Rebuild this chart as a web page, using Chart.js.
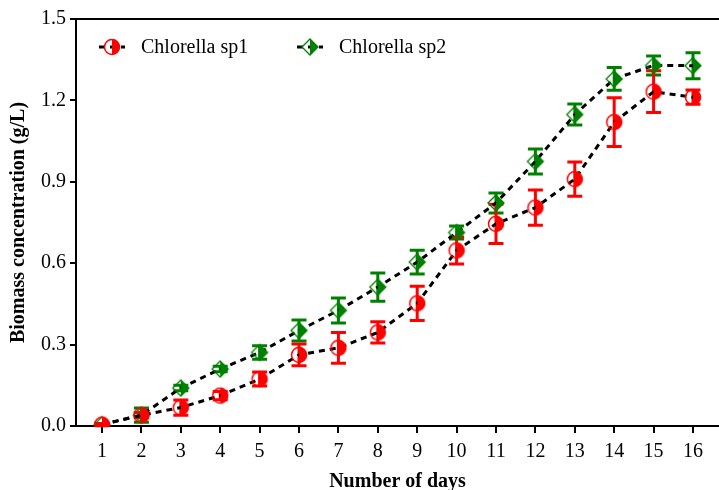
<!DOCTYPE html>
<html><head><meta charset="utf-8">
<script src="https://cdn.jsdelivr.net/npm/chart.js@4.4.1/dist/chart.umd.min.js"></script>
<style>html,body{margin:0;padding:0;background:#fff}#wrap{width:719px;height:490px}</style>
</head><body><div id="wrap"><canvas id="c" width="719" height="490"></canvas></div>
<script>
const days = [1,2,3,4,5,6,7,8,9,10,11,12,13,14,15,16];
const sp1 = [0.005,0.04,0.068,0.112,0.173,0.262,0.288,0.345,0.452,0.647,0.745,0.805,0.910,1.120,1.232,1.212];
const sp1Err = [0.004,0.010,0.028,0.015,0.026,0.040,0.057,0.039,0.063,0.050,0.072,0.065,0.063,0.090,0.077,0.026];
const sp2 = [0.005,0.040,0.140,0.210,0.271,0.352,0.426,0.512,0.604,0.713,0.822,0.975,1.148,1.279,1.329,1.328];
const sp2Err = [0.003,0.026,0.010,0.010,0.025,0.039,0.046,0.052,0.044,0.024,0.037,0.046,0.039,0.042,0.035,0.048];
const yTicks = [0,0.3,0.6,0.9,1.2,1.5];
const seriesNames = ['Chlorella sp1','Chlorella sp2'];

const RED = '#ff0000', GREEN = '#008000';
const SERIF = '"Liberation Serif", "Times New Roman", serif';

function halfCircle(color){
  const c = document.createElement('canvas'); c.width = 20; c.height = 20;
  const g = c.getContext('2d');
  g.fillStyle = color;
  g.beginPath(); g.arc(10,10,7.5,-Math.PI/2,Math.PI/2); g.closePath(); g.fill();
  g.strokeStyle = color; g.lineWidth = 1.5;
  g.beginPath(); g.arc(10,10,7.5,0,Math.PI*2); g.stroke();
  return c;
}
function halfDiamond(color){
  const c = document.createElement('canvas'); c.width = 20; c.height = 20;
  const g = c.getContext('2d');
  g.fillStyle = color;
  g.beginPath(); g.moveTo(10,2); g.lineTo(18,10); g.lineTo(10,18); g.closePath(); g.fill();
  g.strokeStyle = color; g.lineWidth = 1.3;
  g.beginPath(); g.moveTo(10,2); g.lineTo(18,10); g.lineTo(10,18); g.lineTo(2,10); g.closePath(); g.stroke();
  return c;
}
const mk1 = halfCircle(RED), mk2 = halfDiamond(GREEN);

const errorBars = {
  id: 'errorBars',
  beforeDatasetsDraw(chart){
    const {ctx, scales:{x,y}} = chart;
    const sets = [[sp2,sp2Err,GREEN],[sp1,sp1Err,RED]];
    ctx.save();
    ctx.lineWidth = 3;
    for (const [vals, errs, col] of sets){
      ctx.strokeStyle = col;
      vals.forEach((v,i)=>{
        const px = x.getPixelForValue(days[i]);
        const t = y.getPixelForValue(v+errs[i]);
        const b = y.getPixelForValue(v-errs[i]);
        ctx.beginPath();
        ctx.moveTo(px,t); ctx.lineTo(px,b);
        ctx.moveTo(px-7.5,t); ctx.lineTo(px+7.5,t);
        ctx.moveTo(px-7.5,b); ctx.lineTo(px+7.5,b);
        ctx.stroke();
      });
    }
    ctx.restore();
  }
};

const frameLegend = {
  id: 'frameLegend',
  afterDraw(chart){
    const {ctx, chartArea:a} = chart;
    ctx.save();
    ctx.strokeStyle = '#000'; ctx.lineWidth = 2;
    ctx.beginPath(); ctx.moveTo(a.left-1, a.top); ctx.lineTo(a.right, a.top); ctx.stroke();
    const items = [[mk1, seriesNames[0], a.left+36], [mk2, seriesNames[1], a.left+234]];
    const ly = a.top + 28;
    for (const [img, name, cx] of items){
      ctx.strokeStyle = '#000'; ctx.lineWidth = 3; ctx.setLineDash([6,5]);
      ctx.beginPath(); ctx.moveTo(cx-13, ly); ctx.lineTo(cx+13, ly); ctx.stroke();
      ctx.setLineDash([]);
      ctx.drawImage(img, cx-10, ly-10);
      ctx.fillStyle = '#000'; ctx.font = '20px ' + SERIF;
      ctx.textBaseline = 'middle'; ctx.textAlign = 'left';
      ctx.fillText(name, cx+29, ly+1);
    }
    ctx.restore();
  }
};

new Chart(document.getElementById('c'), {
  type: 'line',
  data: {
    datasets: [
      { label: seriesNames[0], data: days.map((d,i)=>({x:d, y:sp1[i]})),
        borderColor: '#000', borderWidth: 3, borderDash: [6,5], fill: false, tension: 0,
        pointStyle: mk1, pointRadius: 8, pointHoverRadius: 8 },
      { label: seriesNames[1], data: days.map((d,i)=>({x:d, y:sp2[i]})),
        borderColor: '#000', borderWidth: 3, borderDash: [6,5], fill: false, tension: 0,
        pointStyle: mk2, pointRadius: 8, pointHoverRadius: 8 }
    ]
  },
  options: {
    responsive: false, animation: false, devicePixelRatio: 1,
    layout: { autoPadding: false, padding: { top: 19, right: 0, left: 0, bottom: 0 } },
    plugins: { legend: { display: false }, tooltip: { enabled: false } },
    scales: {
      x: {
        type: 'linear', min: 0.34, max: 16.66,
        afterBuildTicks(s){ s.ticks = days.map(v=>({value:v})); },
        afterFit(s){ s.height = 64; s.paddingLeft = 0; s.paddingRight = 0; },
        grid: { display: true, drawOnChartArea: false, drawTicks: true, tickLength: 7, color: '#000', lineWidth: 2 },
        border: { display: true, color: '#000', width: 2 },
        ticks: { color: '#000', font: { family: SERIF, size: 20 }, padding: 7, maxRotation: 0, autoSkip: false },
        title: { display: true, text: 'Number of days', color: '#000', font: { family: SERIF, size: 20, weight: 'bold' }, padding: { top: 0, bottom: -4 } }
      },
      y: {
        min: 0, max: 1.5,
        afterBuildTicks(s){ s.ticks = yTicks.map(v=>({value:v})); },
        afterFit(s){ s.width = 76; s.paddingTop = 0; s.paddingBottom = 0; },
        grid: { display: true, drawOnChartArea: false, drawTicks: true, tickLength: 6, color: '#000', lineWidth: 2 },
        border: { display: true, color: '#000', width: 2 },
        ticks: { color: '#000', font: { family: SERIF, size: 20 }, padding: 4, callback: v => Number(v).toFixed(1) },
        title: { display: true, text: 'Biomass concentration (g/L)', color: '#000', font: { family: SERIF, size: 20, weight: 'bold' }, padding: { top: 7, bottom: 0 } }
      }
    }
  },
  plugins: [errorBars, frameLegend]
});
</script>
</body></html>
